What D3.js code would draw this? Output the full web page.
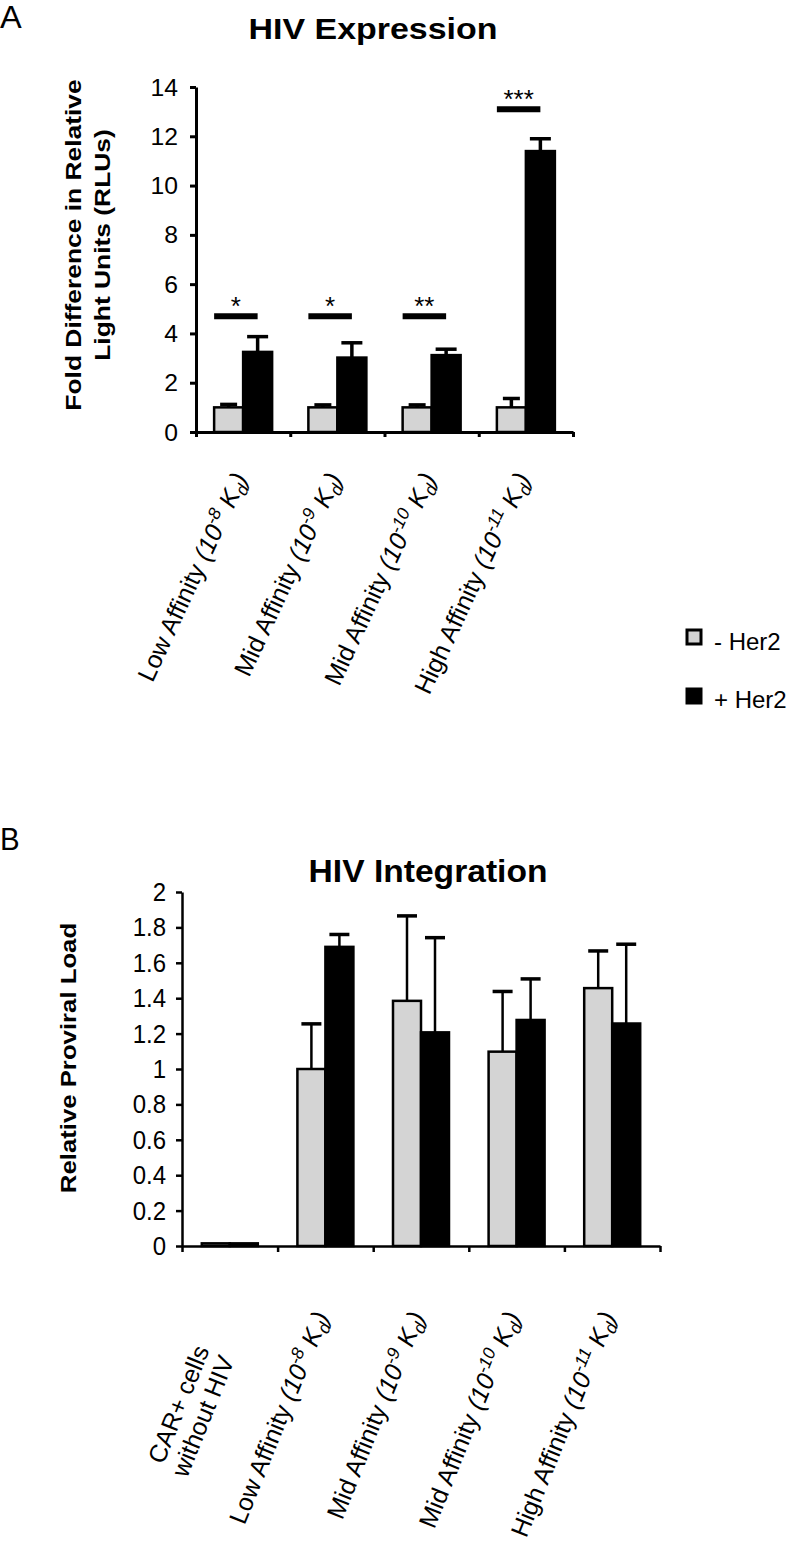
<!DOCTYPE html>
<html>
<head>
<meta charset="utf-8">
<script src="https://cdn.jsdelivr.net/npm/d3@7"></script>
<style>
  body { margin: 0; background: #fff; }
  svg { display: block; font-family: "Liberation Sans", Arial, sans-serif; }
</style>
</head>
<body>
<svg id="chart" width="800" height="1543"></svg>
<script>
// ---- data, panel A (HIV Expression) ----
var affinityNames = ["Low Affinity", "Mid Affinity", "Mid Affinity", "High Affinity"];
var affinityExps = ["-8", "-9", "-10", "-11"];
var minusHer2A = [1.0, 1.0, 1.0, 1.0];
var minusHer2ErrA = [0.12, 0.1, 0.1, 0.36];
var plusHer2A = [3.25, 3.02, 3.12, 11.4];
var plusHer2ErrA = [0.62, 0.6, 0.24, 0.5];
var sigMarks = ["*", "*", "**", "***"];
var sigLevels = [4.7, 4.7, 4.7, 13.1];
var yTicksA = [0, 2, 4, 6, 8, 10, 12, 14];

// ---- data, panel B (HIV Integration) ----
var groupsB = ["CAR+ cells without HIV", "Low Affinity", "Mid Affinity", "Mid Affinity", "High Affinity"];
var groupExpsB = [null, "-8", "-9", "-10", "-11"];
var minusHer2B = [0.015, 1.0, 1.385, 1.098, 1.457];
var minusHer2ErrB = [0, 0.255, 0.48, 0.34, 0.21];
var plusHer2B = [0.015, 1.69, 1.207, 1.277, 1.257];
var plusHer2ErrB = [0, 0.07, 0.535, 0.232, 0.448];
var yTicksB = [0, 0.2, 0.4, 0.6, 0.8, 1, 1.2, 1.4, 1.6, 1.8, 2];

var legendKeys = ["- Her2", "+ Her2"];
var GRAY = "#d4d4d4";

var svg = d3.select("#chart");

// text helper, with optional image-space stretch (sx, sy) like the original figure
function label(g, x, y, str, size, opts) {
  opts = opts || {};
  var tf = "translate(" + x + "," + y + ")";
  if (opts.sx || opts.sy) tf += " scale(" + (opts.sx || 1) + "," + (opts.sy || 1) + ")";
  if (opts.rot) tf += " rotate(" + opts.rot + ")";
  return g.append("text")
    .attr("transform", tf)
    .attr("font-size", size)
    .attr("font-weight", opts.bold ? "bold" : null)
    .attr("text-anchor", opts.anchor || "start")
    .text(str);
}

// category label with italic "(10^x K_d)"
function affinityLabel(g, x, y, name, exp, size, rot) {
  var t = g.append("text")
    .attr("transform", "translate(" + x + "," + y + ") rotate(" + rot + ")")
    .attr("font-size", size)
    .attr("text-anchor", "end");
  t.append("tspan").text(name + " ");
  t.append("tspan").attr("font-style", "italic").text("(10");
  t.append("tspan").attr("font-style", "italic").attr("font-size", size * 0.7).attr("dy", -size * 0.38).text(exp);
  t.append("tspan").attr("font-style", "italic").attr("dy", size * 0.38).text(" K");
  t.append("tspan").attr("font-style", "italic").attr("font-size", size * 0.7).attr("dy", size * 0.22).text("d");
  t.append("tspan").attr("font-style", "italic").attr("dy", -size * 0.22).text(")");
  return t;
}

function drawBars(g, y, xs, vals, errs, fill, w, capW, errW) {
  vals.forEach(function (v, i) {
    var bx = xs[i];
    if (errs[i] > 0) {
      g.append("line")
        .attr("x1", bx + w / 2).attr("x2", bx + w / 2)
        .attr("y1", y(v)).attr("y2", y(v + errs[i]))
        .attr("stroke", "#000").attr("stroke-width", errW);
      g.append("line")
        .attr("x1", bx + w / 2 - capW / 2).attr("x2", bx + w / 2 + capW / 2)
        .attr("y1", y(v + errs[i])).attr("y2", y(v + errs[i]))
        .attr("stroke", "#000").attr("stroke-width", 3.5);
    }
    g.append("rect")
      .attr("x", bx).attr("width", w)
      .attr("y", y(v)).attr("height", y(0) - y(v))
      .attr("fill", fill).attr("stroke", "#000").attr("stroke-width", 2.5);
  });
}

function styleAxis(sel, sw) {
  sel.select(".domain").attr("stroke-width", sw);
  sel.selectAll(".tick line").attr("stroke-width", sw);
}

// ================= Panel A =================
(function () {
  var g = svg.append("g");
  var left = 196, right = 573, top = 87, bottom = 432;

  var x = d3.scaleBand().domain(d3.range(affinityNames.length)).range([left, right]);
  var xEdge = d3.scaleLinear().domain([0, affinityNames.length]).range([left, right]);
  var y = d3.scaleLinear().domain([0, 14]).range([bottom, top]);
  var bw = 29;

  label(g, 0, 28, "A", 31, { sx: 1.05 });
  label(g, 373, 39, "HIV Expression", 29, { bold: true, anchor: "middle", sx: 1.17 });

  var gx = g.append("g").attr("transform", "translate(0," + bottom + ")")
    .call(d3.axisBottom(xEdge).tickValues(d3.range(affinityNames.length + 1)).tickFormat("").tickSize(5).tickSizeOuter(0));
  styleAxis(gx, 3);

  var gy = g.append("g").attr("transform", "translate(" + left + ",0)")
    .call(d3.axisLeft(y).tickValues(yTicksA).tickFormat("").tickSize(6).tickSizeOuter(0));
  styleAxis(gy, 3);
  yTicksA.forEach(function (t) {
    label(g, 178, y(t) + 8.5, String(t), 24, { anchor: "end", sx: 1.03 });
  });

  var xsMinus = affinityNames.map(function (d, i) { return x(i) + x.bandwidth() / 2 - bw; });
  var xsPlus = affinityNames.map(function (d, i) { return x(i) + x.bandwidth() / 2; });
  drawBars(g, y, xsMinus, minusHer2A, minusHer2ErrA, GRAY, bw, 17, 3.5);
  drawBars(g, y, xsPlus, plusHer2A, plusHer2ErrA, "#000", bw, 21, 3.5);

  // significance markers
  sigMarks.forEach(function (m, i) {
    var x1 = xsMinus[i], x2 = xsPlus[i] + bw / 2;
    g.append("line")
      .attr("x1", x1).attr("x2", x2)
      .attr("y1", y(sigLevels[i])).attr("y2", y(sigLevels[i]))
      .attr("stroke", "#000").attr("stroke-width", 6);
    label(g, (x1 + x2) / 2, y(sigLevels[i]) - 1, m, 26, { anchor: "middle" });
  });

  // y axis title
  label(g, 81, 245, "Fold Difference in Relative", 22, { bold: true, anchor: "middle", rot: -90, sy: 1.2 });
  label(g, 110, 245, "Light Units (RLUs)", 22, { bold: true, anchor: "middle", rot: -90, sy: 1.2 });

  // category labels
  affinityNames.forEach(function (n, i) {
    affinityLabel(g, x(i) + x.bandwidth() / 2 + 5, bottom + 46, n, affinityExps[i], 25, -65);
  });

  // legend
  var lg = g.append("g");
  legendKeys.forEach(function (k, i) {
    lg.append("rect")
      .attr("x", 687).attr("y", 630 + i * 59)
      .attr("width", 14).attr("height", 14)
      .attr("fill", i === 0 ? GRAY : "#000")
      .attr("stroke", "#000").attr("stroke-width", 3);
    label(lg, 714, 650 + i * 58, k, 24);
  });
})();

// ================= Panel B =================
(function () {
  var g = svg.append("g");
  var left = 182, right = 660, top = 892, bottom = 1246;

  var x = d3.scaleBand().domain(d3.range(groupsB.length)).range([left, right]);
  var xEdge = d3.scaleLinear().domain([0, groupsB.length]).range([left, right]);
  var y = d3.scaleLinear().domain([0, 2]).range([bottom, top]);
  var bw = 28;

  label(g, 0, 850, "B", 31, { sx: 0.95 });
  label(g, 428, 882, "HIV Integration", 32, { bold: true, anchor: "middle", sx: 1.05 });

  var gx = g.append("g").attr("transform", "translate(0," + bottom + ")")
    .call(d3.axisBottom(xEdge).tickValues(d3.range(groupsB.length + 1)).tickFormat("").tickSize(6).tickSizeOuter(0));
  styleAxis(gx, 2.5);

  var gy = g.append("g").attr("transform", "translate(" + left + ",0)")
    .call(d3.axisLeft(y).tickValues(yTicksB).tickFormat("").tickSize(6).tickSizeOuter(0));
  styleAxis(gy, 2.5);
  yTicksB.forEach(function (t) {
    label(g, 166, y(t) + 9, String(t), 24, { anchor: "end", sy: 1.08 });
  });

  var xsMinus = groupsB.map(function (d, i) { return x(i) + x.bandwidth() / 2 - bw; });
  var xsPlus = groupsB.map(function (d, i) { return x(i) + x.bandwidth() / 2; });
  drawBars(g, y, xsMinus, minusHer2B, minusHer2ErrB, GRAY, bw, 20, 2.5);
  drawBars(g, y, xsPlus, plusHer2B, plusHer2ErrB, "#000", bw, 20, 2.5);

  label(g, 76, 1058, "Relative Proviral Load", 22, { bold: true, anchor: "middle", rot: -90, sy: 1.17 });

  // category labels
  var c0 = x(0) + x.bandwidth() / 2;
  var t0 = g.append("text")
    .attr("transform", "translate(" + (c0 - 20) + "," + (bottom + 104) + ") rotate(-68)")
    .attr("font-size", 25).attr("text-anchor", "end");
  t0.append("tspan").attr("x", 0).attr("dy", 0).text("CAR+ cells");
  t0.append("tspan").attr("x", 0).attr("dy", 27).text("without HIV");

  groupsB.forEach(function (n, i) {
    if (i === 0) return;
    affinityLabel(g, x(i) + x.bandwidth() / 2 + 4, bottom + 70, n, groupExpsB[i], 25, -68);
  });
})();
</script>
</body>
</html>
